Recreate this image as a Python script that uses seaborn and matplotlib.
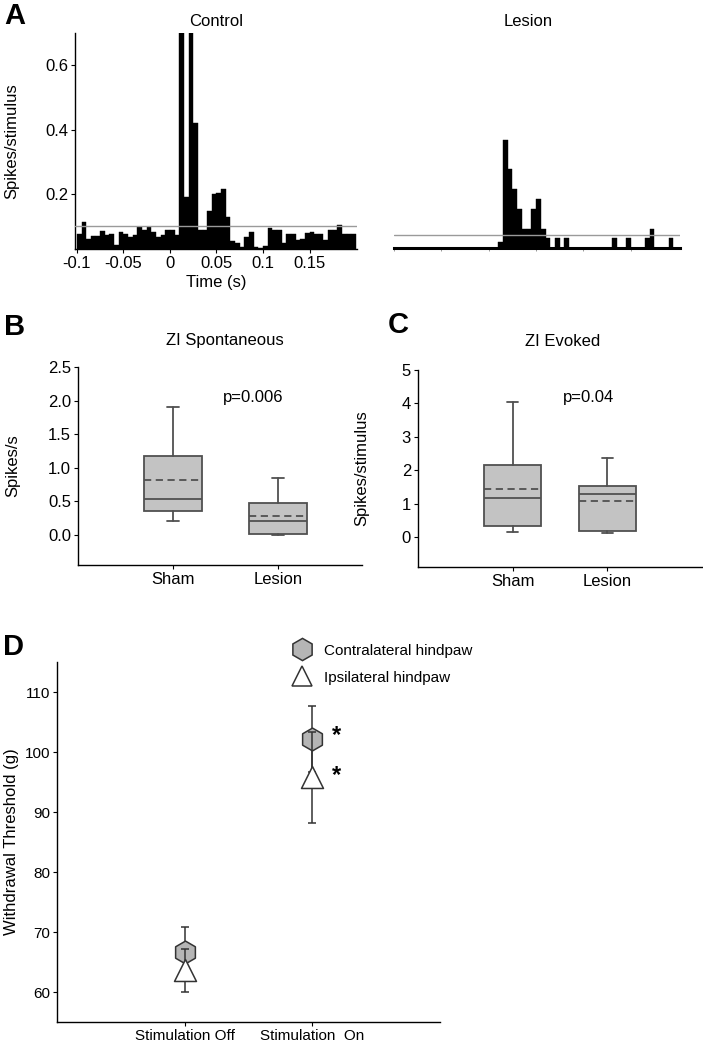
import matplotlib
matplotlib.use("Agg")
import numpy as np
import pandas as pd
import seaborn as sns
import matplotlib.pyplot as plt
from matplotlib import transforms
from matplotlib.lines import Line2D
from matplotlib import font_manager

# ---------------- data ----------------
bin_start = -0.1
bin_width = 0.005
n_bins = 60

control_rate = [0.077, 0.115, 0.062, 0.070, 0.070, 0.086, 0.072, 0.077, 0.043, 0.082,
                0.077, 0.067, 0.074, 0.098, 0.090, 0.098, 0.084, 0.067, 0.074, 0.090,
                0.090, 0.072, 0.750, 0.190, 0.750, 0.420, 0.090, 0.090, 0.149, 0.200,
                0.205, 0.215, 0.130, 0.056, 0.049, 0.035, 0.067, 0.083, 0.035, 0.034,
                0.040, 0.094, 0.090, 0.090, 0.050, 0.075, 0.075, 0.058, 0.060, 0.080,
                0.082, 0.077, 0.077, 0.058, 0.090, 0.090, 0.105, 0.077, 0.075, 0.075]
lesion_rate = [0, 0, 0, 0, 0, 0, 0, 0, 0, 0,
               0, 0, 0, 0, 0, 0, 0, 0, 0, 0,
               0, 0, 0.055, 0.370, 0.280, 0.217, 0.156, 0.096, 0.096, 0.156,
               0.187, 0.096, 0.067, 0, 0.067, 0, 0.067, 0, 0, 0,
               0, 0, 0, 0, 0, 0, 0.067, 0, 0, 0.067,
               0, 0, 0, 0.067, 0.096, 0, 0, 0, 0.067, 0]
control_thresh = 0.102
lesion_thresh = 0.077
time_ticks = [-0.1, -0.05, 0, 0.05, 0.1, 0.15]
time_ticklabels = ["-0.1", "-0.05", "0", "0.05", "0.1", "0.15"]
rate_ticks = [0.2, 0.4, 0.6]

groups = ["Sham", "Lesion"]
spont_whislo = [0.21, 0.00]
spont_q1 = [0.36, 0.01]
spont_med = [0.53, 0.20]
spont_mean = [0.81, 0.28]
spont_q3 = [1.17, 0.47]
spont_whishi = [1.91, 0.85]

evoked_whislo = [0.15, 0.11]
evoked_q1 = [0.33, 0.19]
evoked_med = [1.17, 1.29]
evoked_mean = [1.44, 1.09]
evoked_q3 = [2.16, 1.52]
evoked_whishi = [4.05, 2.36]

conditions = ["Stimulation Off", "Stimulation  On"]
contra_mean = [66.7, 102.1]
contra_err = [4.1, 5.5]
ipsi_mean = [63.6, 95.8]
ipsi_err = [3.6, 7.6]
star_y = [103.1, 96.4]

# ---------------- style ----------------
W, H = 703, 1050
sns.set_theme(style="ticks")
plt.rcParams["font.family"] = ["Liberation Sans", "DejaVu Sans"]
plt.rcParams["axes.unicode_minus"] = False
plt.rcParams["axes.linewidth"] = 1.0
plt.rcParams["xtick.major.size"] = 3
plt.rcParams["ytick.major.size"] = 3
plt.rcParams["xtick.major.width"] = 0.8
plt.rcParams["ytick.major.width"] = 0.8
for k in ["xtick.color", "ytick.color", "axes.edgecolor", "text.color",
          "axes.labelcolor", "xtick.labelcolor", "ytick.labelcolor"]:
    plt.rcParams[k] = "black"

_names = {f.name for f in font_manager.fontManager.ttflist}
if "Liberation Sans Narrow" in _names:
    NARROW = ["Liberation Sans Narrow", "Liberation Sans", "DejaVu Sans"]
    NFS = 12.5
else:
    NARROW = ["Liberation Sans", "DejaVu Sans"]
    NFS = 11
FS = 12

fig = plt.figure(figsize=(W / 100, H / 100), dpi=100)


def add_ax(l, t, r, b):
    return fig.add_axes([l / W, 1 - b / H, (r - l) / W, (b - t) / H])


def ftext(x, y, s, **kw):
    fig.text(x / W, 1 - y / H, s, **kw)


def set_ylabel_px(ax, label, px_right, l, r, **kw):
    ax.set_ylabel(label, **kw)
    ax.yaxis.set_label_coords((px_right - l) / (r - l), 0.5)


edges = bin_start + bin_width * np.arange(n_bins + 1)
centers = (edges[:-1] + edges[1:]) / 2
hist_df = pd.DataFrame({"t": centers, "control": control_rate, "lesion": lesion_rate})
brange = (float(edges[0]), float(edges[-1]))

# ---------------- Panel A: control ----------------
axc = add_ax(75, 33, 357, 249)
sns.histplot(data=hist_df, x="t", weights="control", bins=n_bins, binrange=brange, ax=axc,
             color="black", alpha=1, edgecolor="black", linewidth=0.3)
axc.axhline(control_thresh, color="#9a9a9a", lw=1.0, zorder=5)
axc.set_xlim(-0.102, 0.201)
axc.set_ylim(0.03, 0.70)
axc.set_xticks(time_ticks)
axc.set_xticklabels(time_ticklabels, fontsize=FS)
axc.set_yticks(rate_ticks)
axc.set_yticklabels([f"{v:.1f}" for v in rate_ticks], fontsize=FS)
axc.set_xlabel("Time (s)", fontsize=FS, labelpad=3)
set_ylabel_px(axc, "Spikes/stimulus", 19, 75, 357, fontsize=FS)
axc.spines[["top", "right"]].set_visible(False)
axc.tick_params(pad=2)
ftext(216, 21, "Control", ha="center", va="center", fontsize=FS)

# ---------------- Panel A: lesion ----------------
axl = add_ax(394, 33, 680, 248)
sns.histplot(data=hist_df, x="t", weights="lesion", bins=n_bins, binrange=brange, ax=axl,
             color="black", alpha=1, edgecolor="black", linewidth=0.3)
axl.axhline(lesion_thresh, color="#9a9a9a", lw=1.0, zorder=5)
axl.set_xlim(-0.1, 0.202)
axl.set_ylim(0.036, 0.70)
axl.set_xticks(time_ticks)
axl.set_xticklabels([])
axl.set_yticks([])
axl.set_xlabel("")
axl.set_ylabel("")
axl.spines[["top", "right", "left"]].set_visible(False)
axl.spines["bottom"].set_linewidth(2.2)
axl.tick_params(axis="x", length=2, width=0.6, colors="#888888")
ftext(528, 21, "Lesion", ha="center", va="center", fontsize=FS)

ftext(4, 16, "A", ha="left", va="center", fontsize=21, fontweight="bold")

# ---------------- box helper ----------------
BOX_FACE = "#c3c3c3"
LINE_C = "#505050"


def draw_box(ax, whislo, q1, med, mean, q3, whishi, width):
    stats = []
    for i, g in enumerate(groups):
        stats.append(dict(label=g, whislo=whislo[i], q1=q1[i], med=med[i],
                          mean=mean[i], q3=q3[i], whishi=whishi[i], fliers=[]))
    ax.bxp(stats, positions=[0, 1], widths=width, capwidths=0.11,
           showmeans=True, meanline=True, showfliers=False, patch_artist=True,
           boxprops=dict(facecolor=BOX_FACE, edgecolor=LINE_C, linewidth=1.3),
           medianprops=dict(color=LINE_C, linewidth=1.3),
           meanprops=dict(color=LINE_C, linewidth=1.3, linestyle=(0, (4, 2.5))),
           whiskerprops=dict(color=LINE_C, linewidth=1.3),
           capprops=dict(color=LINE_C, linewidth=1.3))


# ---------------- Panel B ----------------
axb = add_ax(78, 367, 362, 565)
draw_box(axb, spont_whislo, spont_q1, spont_med, spont_mean, spont_q3, spont_whishi, 0.55)
axb.set_xlim(-0.905, 1.8)
axb.set_ylim(-0.45, 2.5)
axb.set_yticks([0.0, 0.5, 1.0, 1.5, 2.0, 2.5])
axb.set_yticklabels(["0.0", "0.5", "1.0", "1.5", "2.0", "2.5"], fontsize=FS)
axb.set_xticks([0, 1])
axb.set_xticklabels(groups, fontsize=FS)
axb.spines[["top", "right"]].set_visible(False)
set_ylabel_px(axb, "Spikes/s", 20, 78, 362, fontsize=FS)
axb.text(0.76, 2.05, "p=0.006", ha="center", va="center", fontsize=FS)
axb.tick_params(pad=2)
ftext(225, 340, "ZI Spontaneous", ha="center", va="center", fontsize=FS)
ftext(4, 327, "B", ha="left", va="center", fontsize=21, fontweight="bold")

# ---------------- Panel C ----------------
axe = add_ax(418, 370, 702, 567)
draw_box(axe, evoked_whislo, evoked_q1, evoked_med, evoked_mean, evoked_q3, evoked_whishi, 0.6)
axe.set_xlim(-1.0, 2.0)
axe.set_ylim(-0.9, 5)
axe.set_yticks([0, 1, 2, 3, 4, 5])
axe.set_yticklabels(["0", "1", "2", "3", "4", "5"], fontsize=FS)
axe.set_xticks([0, 1])
axe.set_xticklabels(groups, fontsize=FS)
axe.spines[["top", "right"]].set_visible(False)
set_ylabel_px(axe, "Spikes/stimulus", 369, 418, 702, fontsize=FS)
axe.text(0.8, 4.19, "p=0.04", ha="center", va="center", fontsize=FS)
axe.tick_params(pad=2)
ftext(563, 341, "ZI Evoked", ha="center", va="center", fontsize=FS)
ftext(388, 325, "C", ha="left", va="center", fontsize=21, fontweight="bold")

# ---------------- Panel D ----------------
axd = add_ax(57, 662, 440, 1022)
xpos = np.arange(len(conditions))
dd = pd.DataFrame({"x": np.concatenate([xpos, xpos]),
                   "y": contra_mean + ipsi_mean,
                   "side": ["Contralateral hindpaw"] * 2 + ["Ipsilateral hindpaw"] * 2})
EC = "#333333"
axd.errorbar(xpos, contra_mean, yerr=contra_err, fmt="none", ecolor=EC,
             elinewidth=1.1, capsize=3.2, capthick=1.1, zorder=2)
sns.scatterplot(data=dd[dd.side == "Contralateral hindpaw"], x="x", y="y", ax=axd,
                marker="h", s=270, color="#b5b5b5", edgecolor=EC, linewidth=1.1,
                zorder=3, legend=False)
axd.errorbar(xpos, ipsi_mean, yerr=ipsi_err, fmt="none", ecolor=EC,
             elinewidth=1.1, capsize=3.2, capthick=1.1, zorder=4)
sns.scatterplot(data=dd[dd.side == "Ipsilateral hindpaw"], x="x", y="y", ax=axd,
                marker="^", s=250, color="white", edgecolor=EC, linewidth=1.1,
                zorder=5, legend=False)
for yv in star_y:
    tr = transforms.offset_copy(axd.transData, fig=fig, x=0, y=-0.37 * 17, units="points")
    axd.text(1.19, yv, "*", transform=tr, ha="center", va="baseline",
             fontsize=17, fontweight="bold", color="black")
axd.set_xlim(-1.0, 2.0)
axd.set_ylim(55, 115)
axd.set_yticks([60, 70, 80, 90, 100, 110])
axd.set_yticklabels(["60", "70", "80", "90", "100", "110"], fontsize=NFS, family=NARROW)
axd.set_xticks(xpos)
axd.set_xticklabels(conditions, fontsize=NFS, family=NARROW)
axd.set_xlabel("")
axd.spines[["top", "right"]].set_visible(False)
set_ylabel_px(axd, "Withdrawal Threshold (g)", 19, 57, 440, fontsize=FS)
axd.tick_params(pad=2)

handles = [Line2D([], [], marker="h", ls="none", markersize=16, markerfacecolor="#b5b5b5",
                  markeredgecolor=EC, markeredgewidth=1.1),
           Line2D([], [], marker="^", ls="none", markersize=15, markerfacecolor="white",
                  markeredgecolor=EC, markeredgewidth=1.1)]
fig.legend(handles, ["Contralateral hindpaw", "Ipsilateral hindpaw"],
           loc="upper left", bbox_to_anchor=(281 / W, 1 - 630 / H), frameon=False,
           handlelength=1.0, handletextpad=0.9, labelspacing=0.85, borderpad=0.4,
           prop=dict(family=NARROW, size=NFS))
ftext(3, 647, "D", ha="left", va="center", fontsize=21, fontweight="bold")

fig.savefig("out.png", dpi=100)
